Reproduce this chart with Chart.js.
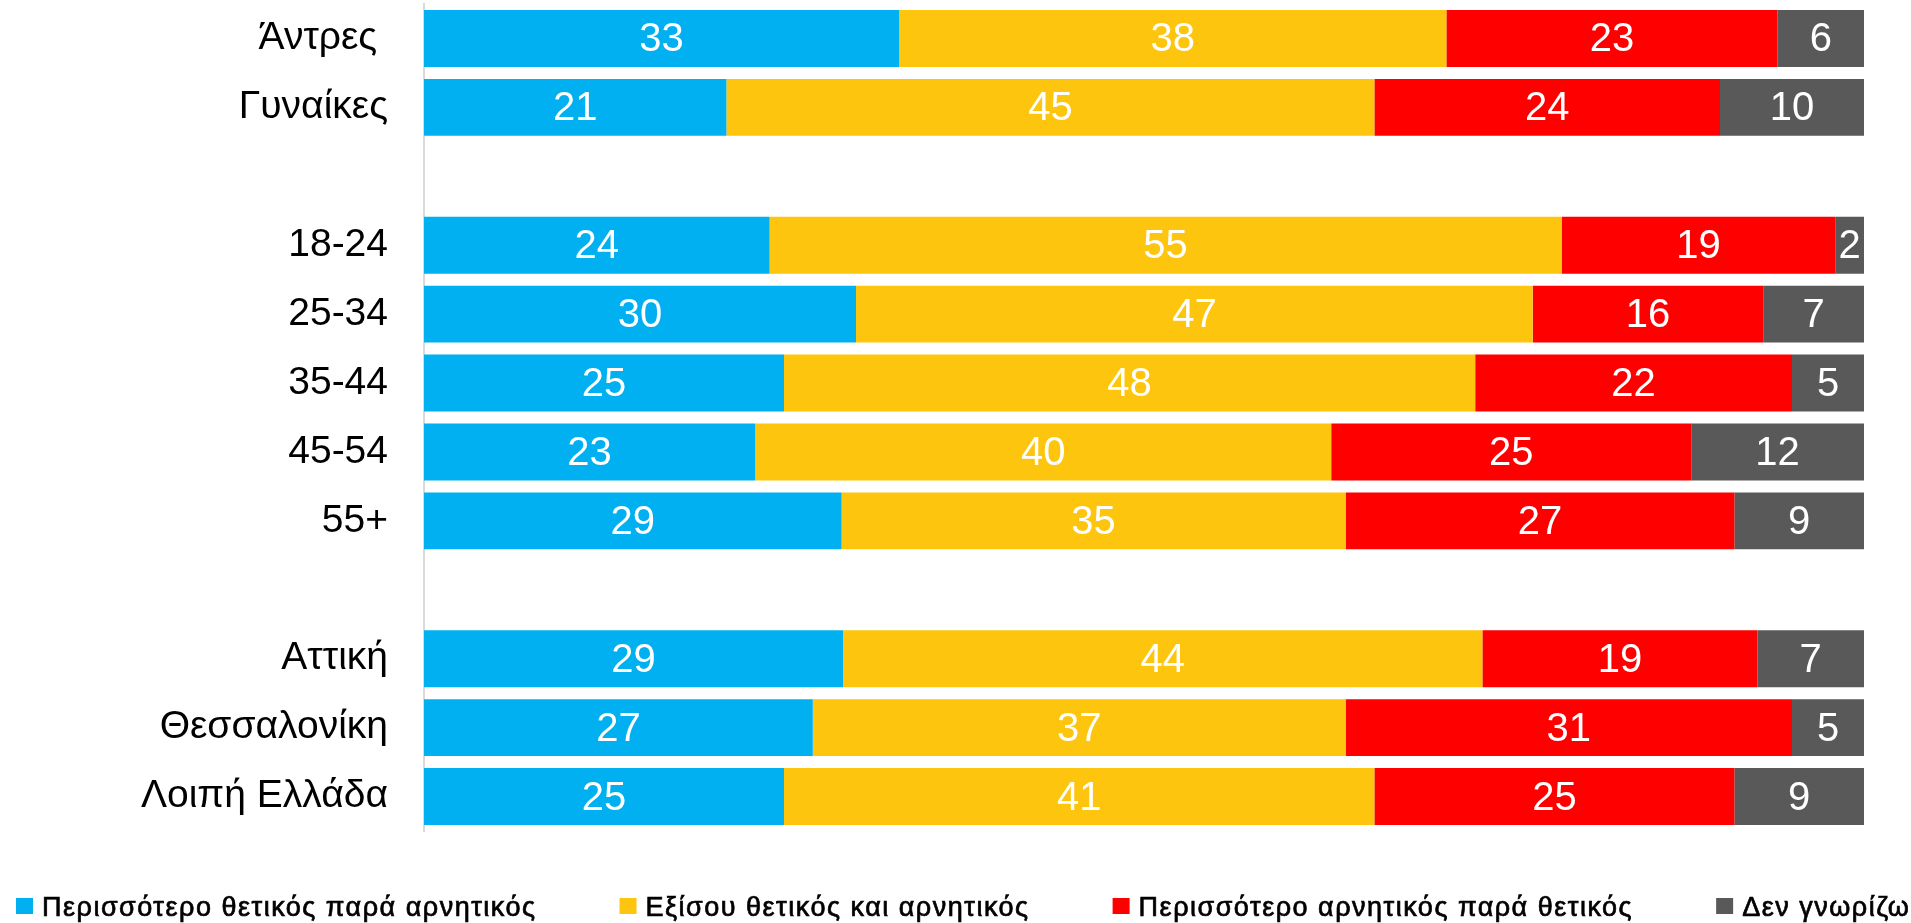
<!DOCTYPE html>
<html>
<head>
<meta charset="utf-8">
<script src="https://cdn.jsdelivr.net/npm/chart.js@4/dist/chart.umd.min.js"></script>
<style>
html,body{margin:0;padding:0;background:#fff;overflow:hidden;}
#wrap{width:1911px;height:923px;position:relative;}
</style>
</head>
<body>
<div id="wrap"><canvas id="c"></canvas></div>
<script>
const categories = ['Άντρες ', 'Γυναίκες', '', '18-24', '25-34', '35-44', '45-54', '55+', '', 'Αττική', 'Θεσσαλονίκη', 'Λοιπή Ελλάδα'];
const seriesNames = ['Περισσότερο θετικός παρά αρνητικός', 'Εξίσου θετικός και αρνητικός', 'Περισσότερο αρνητικός παρά θετικός', 'Δεν γνωρίζω'];
const morePositive = [33, 21, null, 24, 30, 25, 23, 29, null, 29.1, 27, 25];
const equal        = [38, 45, null, 55, 47, 48, 40, 35, null, 44.4, 37, 41];
const moreNegative = [23, 24, null, 19, 16, 22, 25, 27, null, 19.1, 31, 25];
const dontKnow     = [6, 10, null, 2, 7, 5, 12, 9, null, 7.4, 5, 9];
const colors = ['#00B0F0', '#FDC50D', '#FF0000', '#595959'];

const FONT = '"Liberation Sans", Arial, sans-serif';

const valueLabels = {
  id: 'valueLabels',
  afterDatasetsDraw(chart) {
    const ctx = chart.ctx;
    ctx.save();
    ctx.fillStyle = '#fff';
    ctx.font = '40px ' + FONT;
    ctx.textAlign = 'center';
    ctx.textBaseline = 'middle';
    chart.data.datasets.forEach((ds, di) => {
      const meta = chart.getDatasetMeta(di);
      meta.data.forEach((bar, i) => {
        const v = ds.data[i];
        if (v === null || v === undefined) return;
        const x = (bar.x + bar.base) / 2;
        ctx.fillText(String(Math.round(v)), x, bar.y + 2);
      });
    });
    ctx.restore();
  }
};

const bottomLegend = {
  id: 'bottomLegend',
  afterDraw(chart) {
    const ctx = chart.ctx;
    ctx.save();
    ctx.font = '27px ' + FONT;
    try { ctx.letterSpacing = '1.5px'; } catch (e) {}
    ctx.textBaseline = 'alphabetic';
    ctx.textAlign = 'left';
    ctx.lineWidth = 0.7;
    ctx.strokeStyle = '#000';
    let x = 16;
    const boxTop = 898, boxW = 17, boxH = 16, baseline = 916;
    chart.data.datasets.forEach((ds) => {
      ctx.fillStyle = ds.backgroundColor;
      ctx.fillRect(x, boxTop, boxW, boxH);
      ctx.fillStyle = '#000';
      const tx = x + boxW + 9;
      ctx.fillText(ds.label, tx, baseline);
      ctx.strokeText(ds.label, tx, baseline);
      x = tx + ctx.measureText(ds.label).width + 83;
    });
    ctx.restore();
  }
};

const data = {
  labels: categories,
  datasets: [morePositive, equal, moreNegative, dontKnow].map((arr, i) => ({
    label: seriesNames[i],
    data: arr,
    backgroundColor: colors[i],
    borderWidth: 0,
    barPercentage: 0.827,
    categoryPercentage: 1.0
  }))
};

new Chart(document.getElementById('c'), {
  type: 'bar',
  data: data,
  plugins: [valueLabels, bottomLegend],
  options: {
    indexAxis: 'y',
    responsive: true,
    maintainAspectRatio: false,
    animation: false,
    layout: { padding: { top: 4, right: 47, left: 0, bottom: 92 } },
    scales: {
      x: {
        stacked: true,
        min: 0, max: 100,
        display: false
      },
      y: {
        stacked: true,
        grid: { display: false, drawTicks: false },
        border: { display: true, color: '#d9d9d9', width: 2 },
        ticks: {
          color: '#000',
          padding: 36,
          autoSkip: false,
          font: { size: 39, family: FONT }
        },
        afterFit(scale) {
          scale.width = 424;
          scale.paddingTop = 0;
          scale.paddingBottom = 0;
        }
      }
    },
    plugins: {
      tooltip: { enabled: false },
      legend: { display: false }
    }
  }
});
</script>
</body>
</html>
